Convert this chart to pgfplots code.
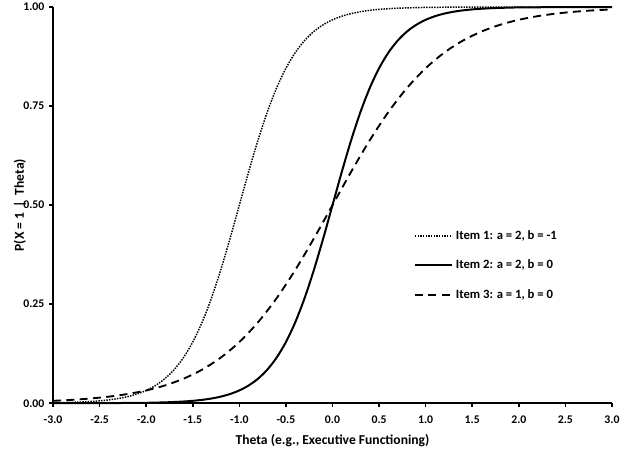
\documentclass[border=0pt]{standalone}
\usepackage{fontspec}
\setmainfont{Carlito}
\usepackage{pgfplots}
\pgfplotsset{compat=1.18}
\begin{document}
\begin{tikzpicture}
\begin{axis}[
  scale only axis, width=419pt, height=297pt,
  xmin=-3, xmax=3, ymin=0, ymax=1,
  axis lines*=left,
  axis line style={line width=1.4pt},
  xtick={-3,-2.5,...,3}, ytick={0,0.25,0.5,0.75,1},
  tick align=outside, major tick length=3pt,
  tick style={line width=1.2pt, black},
  /pgf/number format/assume math mode=true,
  ticklabel style={font=\bfseries\fontsize{8.8}{10}\selectfont},
  xticklabel style={/pgf/number format/.cd, fixed, fixed zerofill, precision=1, /tikz/.cd, yshift=-3pt},
  yticklabel style={/pgf/number format/.cd, fixed, fixed zerofill, precision=2, /tikz/.cd},
  xlabel={\bfseries Theta (e.g., Executive Functioning)},
  ylabel={\bfseries P(X = 1 \,|\, Theta)},
  label style={font=\bfseries\fontsize{10.2}{12}\selectfont},
  xlabel style={yshift=-1pt},
  ylabel style={yshift=-9pt},
  clip=false,
  legend style={at={(rel axis cs:0.638,0.45)}, anchor=north west, draw=none, fill=none,
    font=\bfseries\fontsize{9.5}{11}\selectfont, row sep=9.8pt},
  legend cell align=left,
  legend image code/.code={\draw[#1] (0pt,0pt) -- (28pt,0pt);},
]
\addplot[black, line width=1.1pt, dash pattern=on 1.1pt off 0.9pt, smooth] coordinates {
(-3.0,0.00111) (-2.9,0.00156) (-2.8,0.00219) (-2.7,0.00308) (-2.6,0.00432) (-2.5,0.00606)
(-2.4,0.00849) (-2.3,0.01189) (-2.2,0.01663) (-2.1,0.02320) (-2.0,0.03230) (-1.9,0.04479)
(-1.8,0.06180) (-1.7,0.08471) (-1.6,0.11507) (-1.5,0.15447) (-1.4,0.20424) (-1.3,0.26502)
(-1.2,0.33626) (-1.1,0.41581) (-1.0,0.50000) (-0.9,0.58419) (-0.8,0.66374) (-0.7,0.73498)
(-0.6,0.79576) (-0.5,0.84553) (-0.4,0.88493) (-0.3,0.91529) (-0.2,0.93820) (-0.1,0.95521)
(0.0,0.96770) (0.1,0.97680) (0.2,0.98337) (0.3,0.98811) (0.4,0.99151) (0.5,0.99394)
(0.6,0.99568) (0.7,0.99692) (0.8,0.99781) (0.9,0.99844) (1.0,0.99889) (1.2,0.99944)
(1.5,0.99980) (2.0,0.99996) (2.5,1.0) (3.0,1.0)};
\addlegendentry{Item 1: a = 2, b = -1}
\addplot[black, line width=1.5pt, smooth] coordinates {
(-3.0,0.00004) (-2.5,0.00020) (-2.0,0.00111) (-1.9,0.00156) (-1.8,0.00219) (-1.7,0.00308)
(-1.6,0.00432) (-1.5,0.00606) (-1.4,0.00849) (-1.3,0.01189) (-1.2,0.01663) (-1.1,0.02320)
(-1.0,0.03230) (-0.9,0.04479) (-0.8,0.06180) (-0.7,0.08471) (-0.6,0.11507) (-0.5,0.15447)
(-0.4,0.20424) (-0.3,0.26502) (-0.2,0.33626) (-0.1,0.41581) (0.0,0.50000) (0.1,0.58419)
(0.2,0.66374) (0.3,0.73498) (0.4,0.79576) (0.5,0.84553) (0.6,0.88493) (0.7,0.91529)
(0.8,0.93820) (0.9,0.95521) (1.0,0.96770) (1.1,0.97680) (1.2,0.98337) (1.3,0.98811)
(1.4,0.99151) (1.5,0.99394) (1.6,0.99568) (1.7,0.99692) (1.8,0.99781) (1.9,0.99844)
(2.0,0.99889) (2.5,0.99980) (3.0,0.99996)};
\addlegendentry{Item 2: a = 2, b = 0}
\addplot[black, line width=1.4pt, dash pattern=on 6pt off 4pt, smooth] coordinates {
(-3.0,0.00606) (-2.8,0.00849) (-2.6,0.01189) (-2.4,0.01663) (-2.2,0.02320) (-2.0,0.03230)
(-1.8,0.04479) (-1.6,0.06180) (-1.4,0.08471) (-1.2,0.11507) (-1.0,0.15447) (-0.8,0.20424)
(-0.6,0.26502) (-0.4,0.33626) (-0.2,0.41581) (0.0,0.50000) (0.2,0.58419) (0.4,0.66374)
(0.6,0.73498) (0.8,0.79576) (1.0,0.84553) (1.2,0.88493) (1.4,0.91529) (1.6,0.93820)
(1.8,0.95521) (2.0,0.96770) (2.2,0.97680) (2.4,0.98337) (2.6,0.98811) (2.8,0.99151)
(3.0,0.99394)};
\addlegendentry{Item 3: a = 1, b = 0}
\end{axis}
\pgfresetboundingbox
\path[use as bounding box] ([shift={(-39.75pt,-37.5pt)}]current axis.south west) rectangle ([shift={(9.75pt,5.25pt)}]current axis.north east);
\end{tikzpicture}
\end{document}
